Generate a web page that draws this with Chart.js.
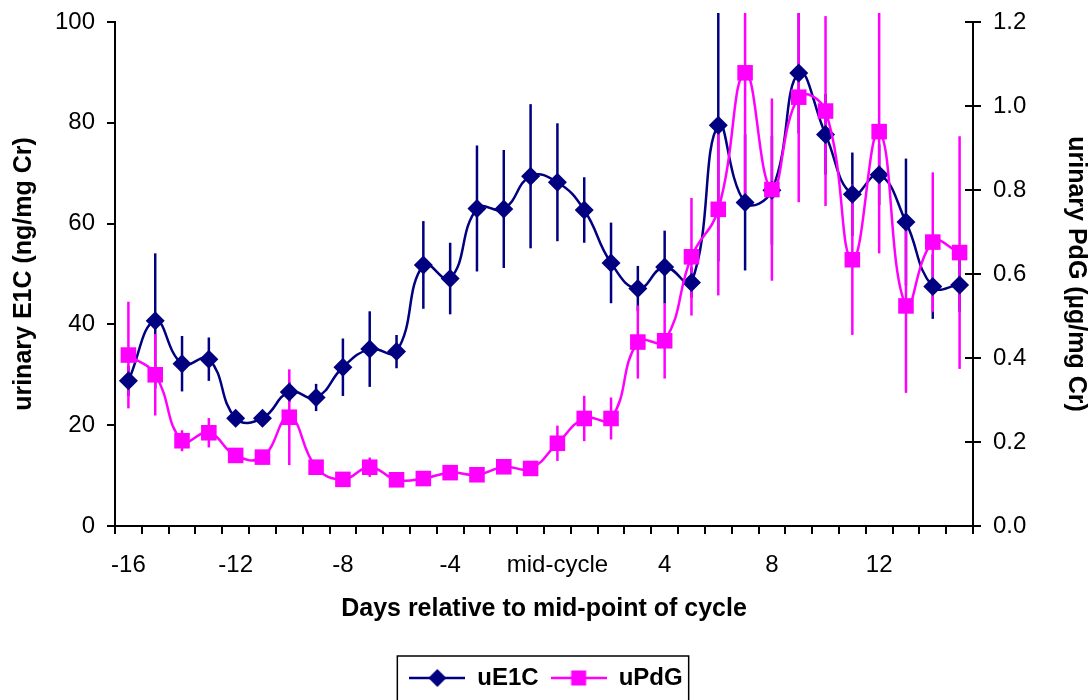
<!DOCTYPE html>
<html>
<head>
<meta charset="utf-8">
<script src="https://cdn.jsdelivr.net/npm/chart.js@4/dist/chart.umd.min.js"></script>
<style>
html,body{margin:0;padding:0;background:#fff;}
</style>
</head>
<body>
<canvas id="canvas" width="1092" height="700"></canvas>
<script>
// days relative to mid-cycle
var days=[-16,-15,-14,-13,-12,-11,-10,-9,-8,-7,-6,-5,-4,-3,-2,-1,0,1,2,3,4,5,6,7,8,9,10,11,12,13,14,15];
// uE1C (ng/mg Cr) and its error bars
var e1c=[28.8,40.7,32.2,33.1,21.4,21.4,26.6,25.5,31.5,35.1,34.6,51.8,49.1,63.0,62.9,69.4,68.2,62.7,52.2,47.1,51.4,48.3,79.5,64.2,66.6,89.9,77.7,65.8,69.7,60.3,47.5,47.8];
var e1cErr=[3,13.4,5.5,4.3,1.5,1.5,2,2.7,5.7,7.5,3.3,8.7,7.1,12.5,11.7,14.3,11.7,6.5,8,4.5,7.2,3,27,13.5,10.8,12,8,8.3,6,12.6,6.4,5.3];
// uPdG (µg/mg Cr) and its error bars
var pdg=[0.407,0.360,0.203,0.222,0.168,0.164,0.259,0.140,0.111,0.140,0.110,0.113,0.127,0.122,0.141,0.137,0.197,0.256,0.256,0.438,0.441,0.641,0.754,1.079,0.801,1.021,0.988,0.634,0.939,0.524,0.676,0.651];
var pdgErr=[0.127,0.097,0.025,0.035,0.008,0.008,0.114,0.006,0.006,0.023,0.006,0.006,0.008,0.008,0.006,0.006,0.042,0.054,0.05,0.087,0.09,0.14,0.205,0.32,0.217,0.25,0.226,0.179,0.29,0.207,0.166,0.277];
// x tick labels
var tickDays=[-16,-12,-8,-4,0,4,8,12];
var tickNames=["-16","-12","-8","-4","mid-cycle","4","8","12"];

var NAVY="#000080", PINK="#ff00ff";
var FONT="'Liberation Sans', Arial, sans-serif";

function legendIcon(color, shape){
  var c=document.createElement("canvas");
  c.width=56; c.height=22;
  var g=c.getContext("2d");
  g.strokeStyle=color; g.lineWidth=2.5;
  g.beginPath(); g.moveTo(0,11); g.lineTo(56,11); g.stroke();
  g.fillStyle=color;
  g.beginPath();
  if(shape==="diamond"){
    g.moveTo(28,2); g.lineTo(37,11); g.lineTo(28,20); g.lineTo(19,11); g.closePath();
  } else {
    g.rect(20.5,3.5,15,15);
  }
  g.fill();
  return c;
}
var icons=[legendIcon(NAVY,"diamond"),legendIcon(PINK,"square")];

var extras={
  id:"extras",
  beforeDatasetsDraw:function(chart){
    var ctx=chart.ctx, a=chart.chartArea;
    ctx.save();
    ctx.beginPath();
    ctx.rect(a.left,a.top-9,a.right-a.left,a.bottom-a.top+9);
    ctx.clip();
    chart.data.datasets.forEach(function(ds,i){
      var meta=chart.getDatasetMeta(i), ys=chart.scales[ds.yAxisID];
      ctx.strokeStyle=ds.borderColor;
      ctx.lineWidth=2.5;
      meta.data.forEach(function(pt,j){
        var v=ds.data[j], e=ds.errors[j];
        ctx.beginPath();
        ctx.moveTo(pt.x,ys.getPixelForValue(v+e));
        ctx.lineTo(pt.x,ys.getPixelForValue(v-e));
        ctx.stroke();
      });
    });
    ctx.restore();
  },
  afterDraw:function(chart){
    var ctx=chart.ctx, a=chart.chartArea, y1=chart.scales.y1;
    ctx.save();
    ctx.strokeStyle="#000"; ctx.lineWidth=2;
    // inner half of the right axis ticks (they cross the axis)
    y1.ticks.forEach(function(t){
      var y=y1.getPixelForValue(t.value);
      ctx.beginPath(); ctx.moveTo(a.right-8,y); ctx.lineTo(a.right,y); ctx.stroke();
    });
    // legend frame
    var lg=chart.legend, hb=lg.legendHitBoxes;
    if(hb && hb.length){
      var last=hb[hb.length-1];
      var l=hb[0].left-12, r=last.left+last.width+6;
      ctx.lineWidth=1.5;
      ctx.strokeRect(l,lg.top+2,r-l,60);
    }
    ctx.restore();
  }
};

var config={
  type:"line",
  data:{
    labels:days.map(String),
    datasets:[
      {label:"uE1C",data:e1c,errors:e1cErr,yAxisID:"y",borderColor:NAVY,backgroundColor:NAVY,
       borderWidth:2.5,pointStyle:"rectRot",pointRadius:9.5,pointHoverRadius:9.5,pointBorderWidth:0,tension:0.45,order:1},
      {label:"uPdG",data:pdg,errors:pdgErr,yAxisID:"y1",borderColor:PINK,backgroundColor:PINK,
       borderWidth:2.5,pointStyle:"rect",pointRadius:11,pointHoverRadius:11,pointBorderWidth:0,tension:0.45,order:0}
    ]
  },
  options:{
    responsive:false,
    animation:false,
    layout:{padding:{top:22,left:0,right:0,bottom:0}},
    plugins:{
      tooltip:{enabled:false},
      legend:{
        position:"bottom",
        labels:{
          font:{family:FONT,size:24,weight:"bold"},
          color:"#000",
          usePointStyle:true,
          pointStyleWidth:56,
          padding:12,
          sort:function(a,b){return a.datasetIndex-b.datasetIndex;},
          generateLabels:function(chart){
            var items=Chart.defaults.plugins.legend.labels.generateLabels(chart);
            items.forEach(function(it){it.pointStyle=icons[it.datasetIndex];});
            return items;
          }
        }
      }
    },
    scales:{
      x:{
        type:"category",
        offset:true,
        grid:{offset:true,drawOnChartArea:false,tickLength:8,color:"#000",lineWidth:2},
        border:{color:"#000",width:2},
        ticks:{
          autoSkip:false,maxRotation:0,padding:17,color:"#000",
          font:{family:FONT,size:24},
          callback:function(v,i){
            var k=tickDays.indexOf(days[i]);
            return k<0?"":tickNames[k];
          }
        },
        title:{display:true,text:"Days relative to mid-point of cycle",color:"#000",
          font:{family:FONT,size:25,weight:"bold",lineHeight:1.2},padding:{top:0,bottom:30}},
        afterFit:function(s){s.height=128;}
      },
      y:{
        position:"left",min:0,max:100,
        grid:{drawOnChartArea:false,tickLength:8,color:"#000",lineWidth:2},
        border:{color:"#000",width:2},
        ticks:{stepSize:20,padding:12,color:"#000",font:{family:FONT,size:24,lineHeight:0.8}},
        title:{display:true,text:"urinary E1C (ng/mg Cr)",color:"#000",
          font:{family:FONT,size:25,weight:"bold",lineHeight:1.2},padding:{top:9,bottom:0}},
        afterFit:function(s){s.width=115;}
      },
      y1:{
        position:"right",min:0,max:1.2,
        grid:{drawOnChartArea:false,tickLength:8,color:"#000",lineWidth:2},
        border:{color:"#000",width:2},
        ticks:{stepSize:0.2,padding:12,color:"#000",font:{family:FONT,size:24,lineHeight:0.8},
          callback:function(v){return Number(v).toFixed(1);}},
        title:{display:true,text:"urinary PdG (µg/mg Cr)",color:"#000",
          font:{family:FONT,size:25,weight:"bold",lineHeight:1.2},padding:{top:1,bottom:0}},
        afterFit:function(s){s.width=119;}
      }
    }
  },
  plugins:[extras]
};

window.onload=function(){
  var ctx=document.getElementById("canvas").getContext("2d");
  window.graph1=new Chart(ctx,config);
};
</script>
</body>
</html>
